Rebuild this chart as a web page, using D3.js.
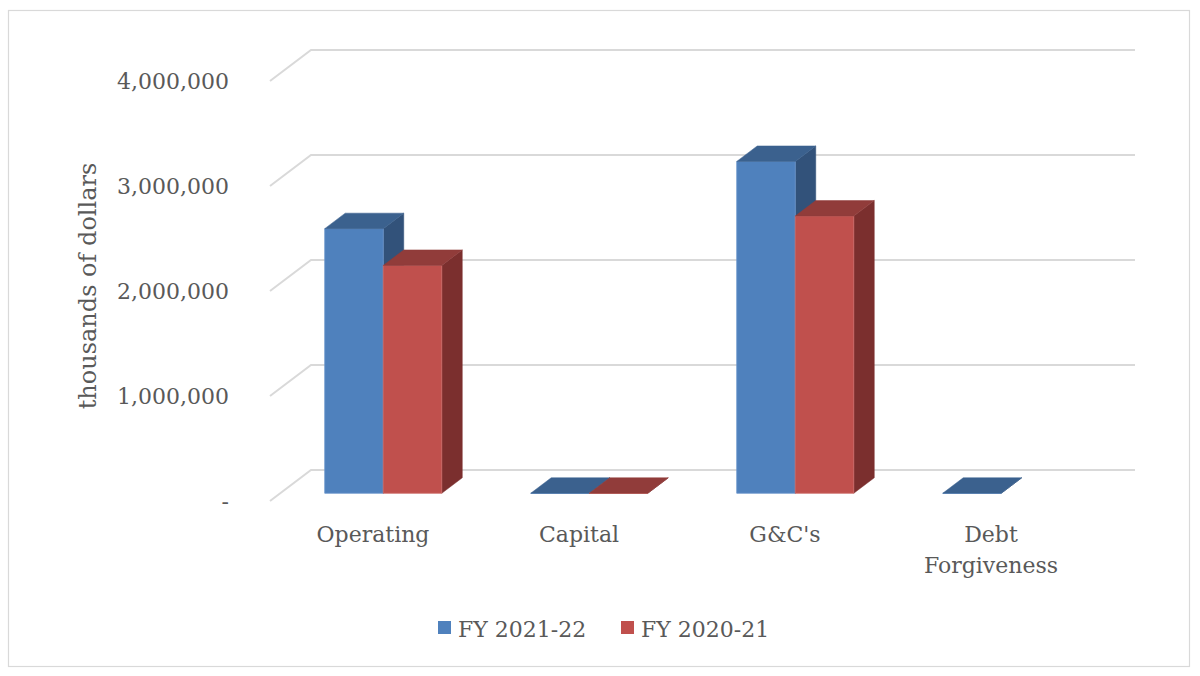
<!DOCTYPE html>
<html>
<head>
<meta charset="utf-8">
<script src="https://cdn.jsdelivr.net/npm/d3@7"></script>
<style>
  html, body { margin: 0; padding: 0; background: #fff; }
  svg { display: block; }
  text { font-family: "DejaVu Serif", "Liberation Serif", serif; fill: #595959; }
</style>
</head>
<body>
<svg id="chart" width="1200" height="676"></svg>
<script>
// ---- data ----
const categories = ["Operating", "Capital", "G&C's", "Debt Forgiveness"];
const seriesNames = ["FY 2021-22", "FY 2020-21"];
const fy2122 = [2520000, 0, 3160000, 0];
const fy2021 = [2170000, 0, 2640000, null];
const yTicks = [0, 1000000, 2000000, 3000000, 4000000];
const seriesColors = [
  { front: "#4F81BD", top: "#3B618E", side: "#32527A", edge: "#6A95CC" },
  { front: "#C0504D", top: "#913C3A", side: "#7B2F2E", edge: "#CB6A67" }
];

// ---- layout ----
const svg = d3.select("#chart");
const W = 1200, H = 676;
const floorLeft = 270, floorRight = 1094;
const depthDX = 41, depthDY = -31;       // wall depth vector
const barD0 = 0.25, barD1 = 0.75;        // bar depth range (0 = front, 1 = back)

const y = d3.scaleLinear().domain([0, 4000000]).range([501, 81]);
const x0 = d3.scaleBand().domain(categories).range([floorLeft, floorRight]).padding(0);
const x1 = d3.scaleBand().domain(seriesNames).range([0, x0.bandwidth()]).paddingInner(0).paddingOuter(0.76);

const P = (xx, v, d) => [xx + depthDX * d, y(v) + depthDY * d];

// border
svg.append("rect")
  .attr("x", 8.5).attr("y", 10.5).attr("width", 1181).attr("height", 656)
  .attr("fill", "#fff").attr("stroke", "#d9d9d9").attr("stroke-width", 1.2);

// gridlines: back wall + side wall diagonal
const grid = svg.append("g").attr("stroke", "#d9d9d9").attr("stroke-width", 2).attr("fill", "none");
yTicks.forEach(t => {
  const a = P(floorLeft, t, 0), b = P(floorLeft, t, 1), c = P(floorRight, t, 1);
  grid.append("path").attr("d", d3.line()([a, b, c]));
});

// y tick labels
const fmt = d3.format(",");
svg.append("g").selectAll("text").data(yTicks).join("text")
  .attr("x", 229).attr("y", d => y(d))
  .attr("text-anchor", "end").attr("dominant-baseline", "central")
  .style("font-size", "22px")
  .text(d => d === 0 ? "-" : fmt(d));

// y axis title
svg.append("text")
  .attr("transform", "translate(96,286) rotate(-90)")
  .attr("text-anchor", "middle")
  .style("font-size", "24px")
  .text("thousands of dollars");

// bars
const series = [fy2122, fy2021];
const barsG = svg.append("g");
categories.forEach((cat, ci) => {
  seriesNames.forEach((sn, si) => {
    const v = series[si][ci];
    if (v === null || v === undefined) return;
    const col = seriesColors[si];
    const xa = x0(cat) + x1(sn), xb = xa + x1.bandwidth();
    const g = barsG.append("g");
    // side face
    g.append("path")
      .attr("d", d3.line()([P(xb, v, barD0), P(xb, 0, barD0), P(xb, 0, barD1), P(xb, v, barD1)]) + "Z")
      .attr("fill", col.side).attr("stroke", col.side).attr("stroke-width", 0.5);
    // front face
    g.append("path")
      .attr("d", d3.line()([P(xa, v, barD0), P(xb, v, barD0), P(xb, 0, barD0), P(xa, 0, barD0)]) + "Z")
      .attr("fill", col.front).attr("stroke", col.edge).attr("stroke-width", 0.8);
    // top face
    g.append("path")
      .attr("d", d3.line()([P(xa, v, barD0), P(xb, v, barD0), P(xb, v, barD1), P(xa, v, barD1)]) + "Z")
      .attr("fill", col.top).attr("stroke", col.top).attr("stroke-width", 0.5);
  });
});

// category labels
const catG = svg.append("g");
categories.forEach(cat => {
  const cx = x0(cat) + x0.bandwidth() / 2;
  const words = cat === "Debt Forgiveness" ? ["Debt", "Forgiveness"] : [cat];
  const t = catG.append("text").attr("text-anchor", "middle").style("font-size", "22px");
  words.forEach((w, i) => {
    t.append("tspan").attr("x", cx).attr("y", 542 + i * 31).text(w);
  });
});

// legend
const legendItems = [
  { name: seriesNames[0], color: seriesColors[0].front, x: 438 },
  { name: seriesNames[1], color: seriesColors[1].front, x: 621 }
];
const lg = svg.append("g");
legendItems.forEach(it => {
  lg.append("rect").attr("x", it.x).attr("y", 621).attr("width", 13).attr("height", 13).attr("fill", it.color);
  lg.append("text").attr("x", it.x + 20).attr("y", 637).style("font-size", "22px").text(it.name);
});
</script>
</body>
</html>
